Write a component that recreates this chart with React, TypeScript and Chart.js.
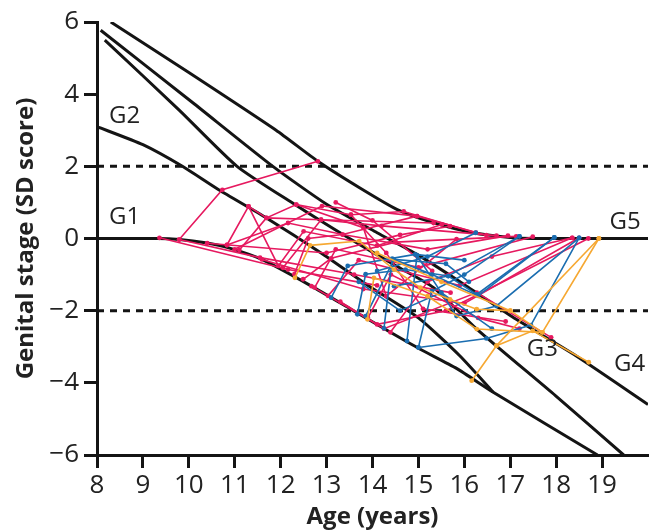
import React, { useEffect, useRef } from 'react';
import { Chart, registerables } from 'chart.js';
Chart.register(...registerables);

const xTicks = [8, 9, 10, 11, 12, 13, 14, 15, 16, 17, 18, 19];
const yTicks = [-6, -4, -2, 0, 2, 4, 6];
const refLevels = [2, -2];
const stageNames = ['G1', 'G2', 'G3', 'G4', 'G5'];

// stage lines [age, SD score]
const g1Line = [[8, 0], [9.3, 0], [9.8, -0.03], [10.36, -0.12], [10.87, -0.26], [11.59, -0.58], [12.67, -1.32], [13.53, -1.96], [14.39, -2.6], [15.04, -3.07], [15.83, -3.6], [16.63, -4.26], [18.9, -6]];
const g2Line = [[8, 3.1], [9, 2.6], [9.86, 2.0], [10.65, 1.35], [11.69, 0.57], [12.88, -0.4], [13.9, -1.3], [15.0, -2.2], [15.9, -3.25], [16.63, -4.26]];
const g3Line = [[8.17, 5.5], [9.79, 3.56], [11.05, 2.0], [12.3, 0.95], [13.5, 0.0], [14.5, -0.75], [15.33, -1.36], [16.27, -2.51], [17.99, -4.36], [19.47, -6]];
const g4Line = [[8.08, 5.77], [10.08, 3.77], [11.83, 2.0], [13, 0.95], [14.1, 0.16], [14.97, -0.44], [16.05, -1.32], [17.13, -2.24], [18.43, -3.25], [20, -4.6]];
const g5Line = [[8.3, 6], [10, 4.6], [11.9, 3.0], [12.81, 2.14], [13.7, 1.42], [14.54, 0.8], [15.3, 0.45], [16.19, 0.16], [17, 0.03], [17.5, 0], [20, 0]];
const stageLines = [g1Line, g2Line, g3Line, g4Line, g5Line];

// individual trajectories [age, SD score]
const pinkPaths = [
  [[9.36, 0.02], [12.16, -0.86], [14.1, -1.3]],
  [[9.79, -0.03], [10.73, 1.35], [12.81, 2.14]],
  [[9.79, -0.03], [11.55, -0.53], [13.6, -1.0], [15.7, -1.5]],
  [[10.83, -0.18], [11.3, 0.89], [11.69, 0.57], [12.34, 0.94], [13.53, 0.66], [14.68, 0.75], [16.25, 0.16]],
  [[10.83, -0.18], [12.16, 0.43], [13.35, 0.11], [14.97, 0.62], [16.48, 0.09]],
  [[11.1, -0.32], [11.69, 0.57], [12.88, 0.52], [15.33, 0.43]],
  [[11.3, 0.89], [11.95, -0.76], [12.5, 0.2], [14.1, -0.2], [15.51, 0.39]],
  [[10.4, -0.13], [13.0, -0.4], [14.6, 0.1], [15.69, 0.34]],
  [[12.05, -0.81], [12.88, 0.52], [14.2, 0.35], [16.7, 0.08]],
  [[12.3, -0.99], [12.6, 0.0], [13.35, 0.11], [15.2, -0.3], [16.95, 0.08]],
  [[12.49, -1.13], [13.1, -0.55], [14.5, -0.1], [17.13, 0.06]],
  [[12.74, -1.36], [13.2, -0.3], [15.0, -0.8], [17.49, 0.05]],
  [[13.03, -1.59], [13.7, -0.6], [15.9, -1.3], [18.35, 0.02]],
  [[11.59, -0.58], [13.8, -1.4], [16.0, -1.8], [18.5, 0.02]],
  [[12.67, -1.32], [14.1, -2.38], [15.6, -2.0], [18.7, 0.0]],
  [[13.3, -1.75], [14.25, -2.5], [16.27, -1.5], [17.89, -2.74]],
  [[13.53, 0.66], [14.3, -0.4], [15.1, -1.95], [16.9, -2.3]],
  [[12.34, 0.94], [13.8, 0.3], [14.3, -1.6], [15.83, -0.02]],
  [[11.0, -0.3], [12.9, 0.9], [14.97, 0.62]],
  [[13.2, 1.0], [14.0, 0.5], [15.3, -0.9]],
  [[13.9, -2.2], [14.4, -1.0], [16.3, -2.2], [17.2, -2.5]],
  [[14.39, -2.6], [15.2, -1.2], [16.6, -0.5], [18.35, 0.02]],
];
const bluePaths = [
  [[13.1, -1.64], [13.46, -0.76], [14.93, -0.44], [16.0, -0.6]],
  [[13.67, -2.1], [13.85, -0.99], [14.72, -0.86], [15.65, -1.04], [17.2, 0.06]],
  [[13.85, -2.15], [14.47, -0.58], [15.6, -0.7], [16.1, -1.2]],
  [[14.25, -2.49], [14.43, -0.56], [15.3, -1.0], [16.3, -1.59], [17.96, 0.03]],
  [[14.75, -2.84], [14.97, -0.47], [15.83, -2.15], [16.7, -1.87], [18.5, 0.02]],
  [[15.0, -3.02], [15.29, -1.46], [16.0, -1.0], [17.2, 0.06]],
  [[15.0, -3.02], [16.48, -2.77], [17.45, -2.4], [18.5, 0.02]],
  [[14.47, -1.32], [15.65, -1.04], [16.27, -1.55], [17.96, 0.03]],
  [[13.7, -1.2], [14.6, -2.0], [15.5, -1.5], [16.6, -2.5]],
  [[14.1, -0.9], [15.2, -0.5], [16.25, 0.16]],
];
const orangePaths = [
  [[12.31, -1.09], [12.64, -0.19], [13.71, -0.07], [14.47, -0.86], [15.04, -1.36], [15.69, -1.69], [16.27, -1.96], [17.0, -2.0]],
  [[13.89, -2.24], [14.03, -1.09], [15.2, -1.6], [16.27, -2.51], [17.7, -2.6], [18.93, 0.0]],
  [[16.16, -3.94], [16.7, -2.97], [17.49, -2.56], [18.71, -3.43]],
  [[16.7, -2.97], [18.93, 0.0]],
  [[14.1, -0.4], [15.5, -1.2], [17.0, -2.0], [17.7, -2.6]],
];

// where the stage names are written [age, SD score]
const stageLabelPos = [[8.6, 0.58], [8.6, 3.4], [17.7, -3.07], [19.6, -3.48], [19.5, 0.45]];

const FONT = "'Open Sans', 'Noto Sans', sans-serif";
const INK = '#141414';

const toXY = (p: number[][]) => p.map(([x, y]) => ({ x, y }));

const labelPlugin = {
  id: 'stageLabels',
  afterDatasetsDraw(chart: any) {
    const { ctx, scales } = chart;
    ctx.save();
    ctx.font = `24px ${FONT}`;
    ctx.fillStyle = '#222';
    ctx.textAlign = 'center';
    ctx.textBaseline = 'middle';
    stageNames.forEach((n, i) => {
      const [ax, ay] = stageLabelPos[i];
      ctx.fillText(n, scales.x.getPixelForValue(ax), scales.y.getPixelForValue(ay));
    });
    ctx.restore();
  },
};

export default function App() {
  const ref = useRef<HTMLCanvasElement | null>(null);
  useEffect(() => {
    if (!ref.current) return;
    const datasets: any[] = [];
    const mk = (paths: number[][][], color: string) => {
      paths.forEach((p) => {
        datasets.push({
          data: toXY(p),
          borderColor: color,
          backgroundColor: color,
          borderWidth: 1.6,
          pointRadius: 2.4,
          pointBorderWidth: 0,
          order: 0,
        });
      });
    };
    mk(orangePaths, '#F6A832');
    mk(bluePaths, '#1A6DB0');
    mk(pinkPaths, '#E6195F');
    stageLines.forEach((l) => {
      datasets.push({
        data: toXY(l),
        borderColor: INK,
        borderWidth: 3,
        pointRadius: 0,
        tension: 0.2,
        order: 1,
      });
    });
    refLevels.forEach((v) => {
      datasets.push({
        data: [{ x: 8, y: v }, { x: 20, y: v }],
        borderColor: INK,
        borderWidth: 3,
        borderDash: [7, 6],
        pointRadius: 0,
        order: 2,
      });
    });
    const chart = new Chart(ref.current, {
      type: 'line',
      data: { datasets },
      options: {
        animation: false,
        responsive: false,
        layout: { padding: { top: 22, right: 2, left: 0, bottom: 0 } },
        plugins: { legend: { display: false }, tooltip: { enabled: false } },
        scales: {
          x: {
            type: 'linear',
            min: 8,
            max: 20,
            afterBuildTicks: (a: any) => { a.ticks = xTicks.map((v) => ({ value: v })); },
            afterFit: (s: any) => { s.height = 77; },
            grid: { display: true, drawOnChartArea: false, drawTicks: true, tickLength: 13, tickWidth: 3, tickColor: INK },
            border: { display: true, color: INK, width: 3 },
            ticks: { color: '#222', font: { family: FONT, size: 26 }, padding: 2, maxRotation: 0, autoSkip: false },
            title: { display: true, text: 'Age (years)', color: '#222', font: { family: FONT, size: 24, weight: 'bold' }, padding: { top: 0, bottom: 0 } },
          },
          y: {
            type: 'linear',
            min: -6,
            max: 6,
            afterBuildTicks: (a: any) => { a.ticks = yTicks.map((v) => ({ value: v })); },
            afterFit: (s: any) => { s.width = 97; },
            grid: { display: true, drawOnChartArea: false, drawTicks: true, tickLength: 13, tickWidth: 3, tickColor: INK },
            border: { display: true, color: INK, width: 3 },
            ticks: {
              color: '#222',
              font: { family: FONT, size: 26 },
              padding: 5,
              callback: (v: any) => (v < 0 ? '\u2212' + Math.abs(v) : String(v)),
            },
            title: { display: true, text: 'Genital stage (SD score)', color: '#222', font: { family: FONT, size: 24, weight: 'bold' }, padding: { top: 12, bottom: 0 } },
          },
        },
      } as any,
      plugins: [labelPlugin],
    });
    return () => chart.destroy();
  }, []);
  return (
    <div style={{ position: 'absolute', left: 0, top: 0, width: 652, height: 532 }}>
      <canvas ref={ref} width={652} height={532} style={{ width: 652, height: 532 }} />
    </div>
  );
}
